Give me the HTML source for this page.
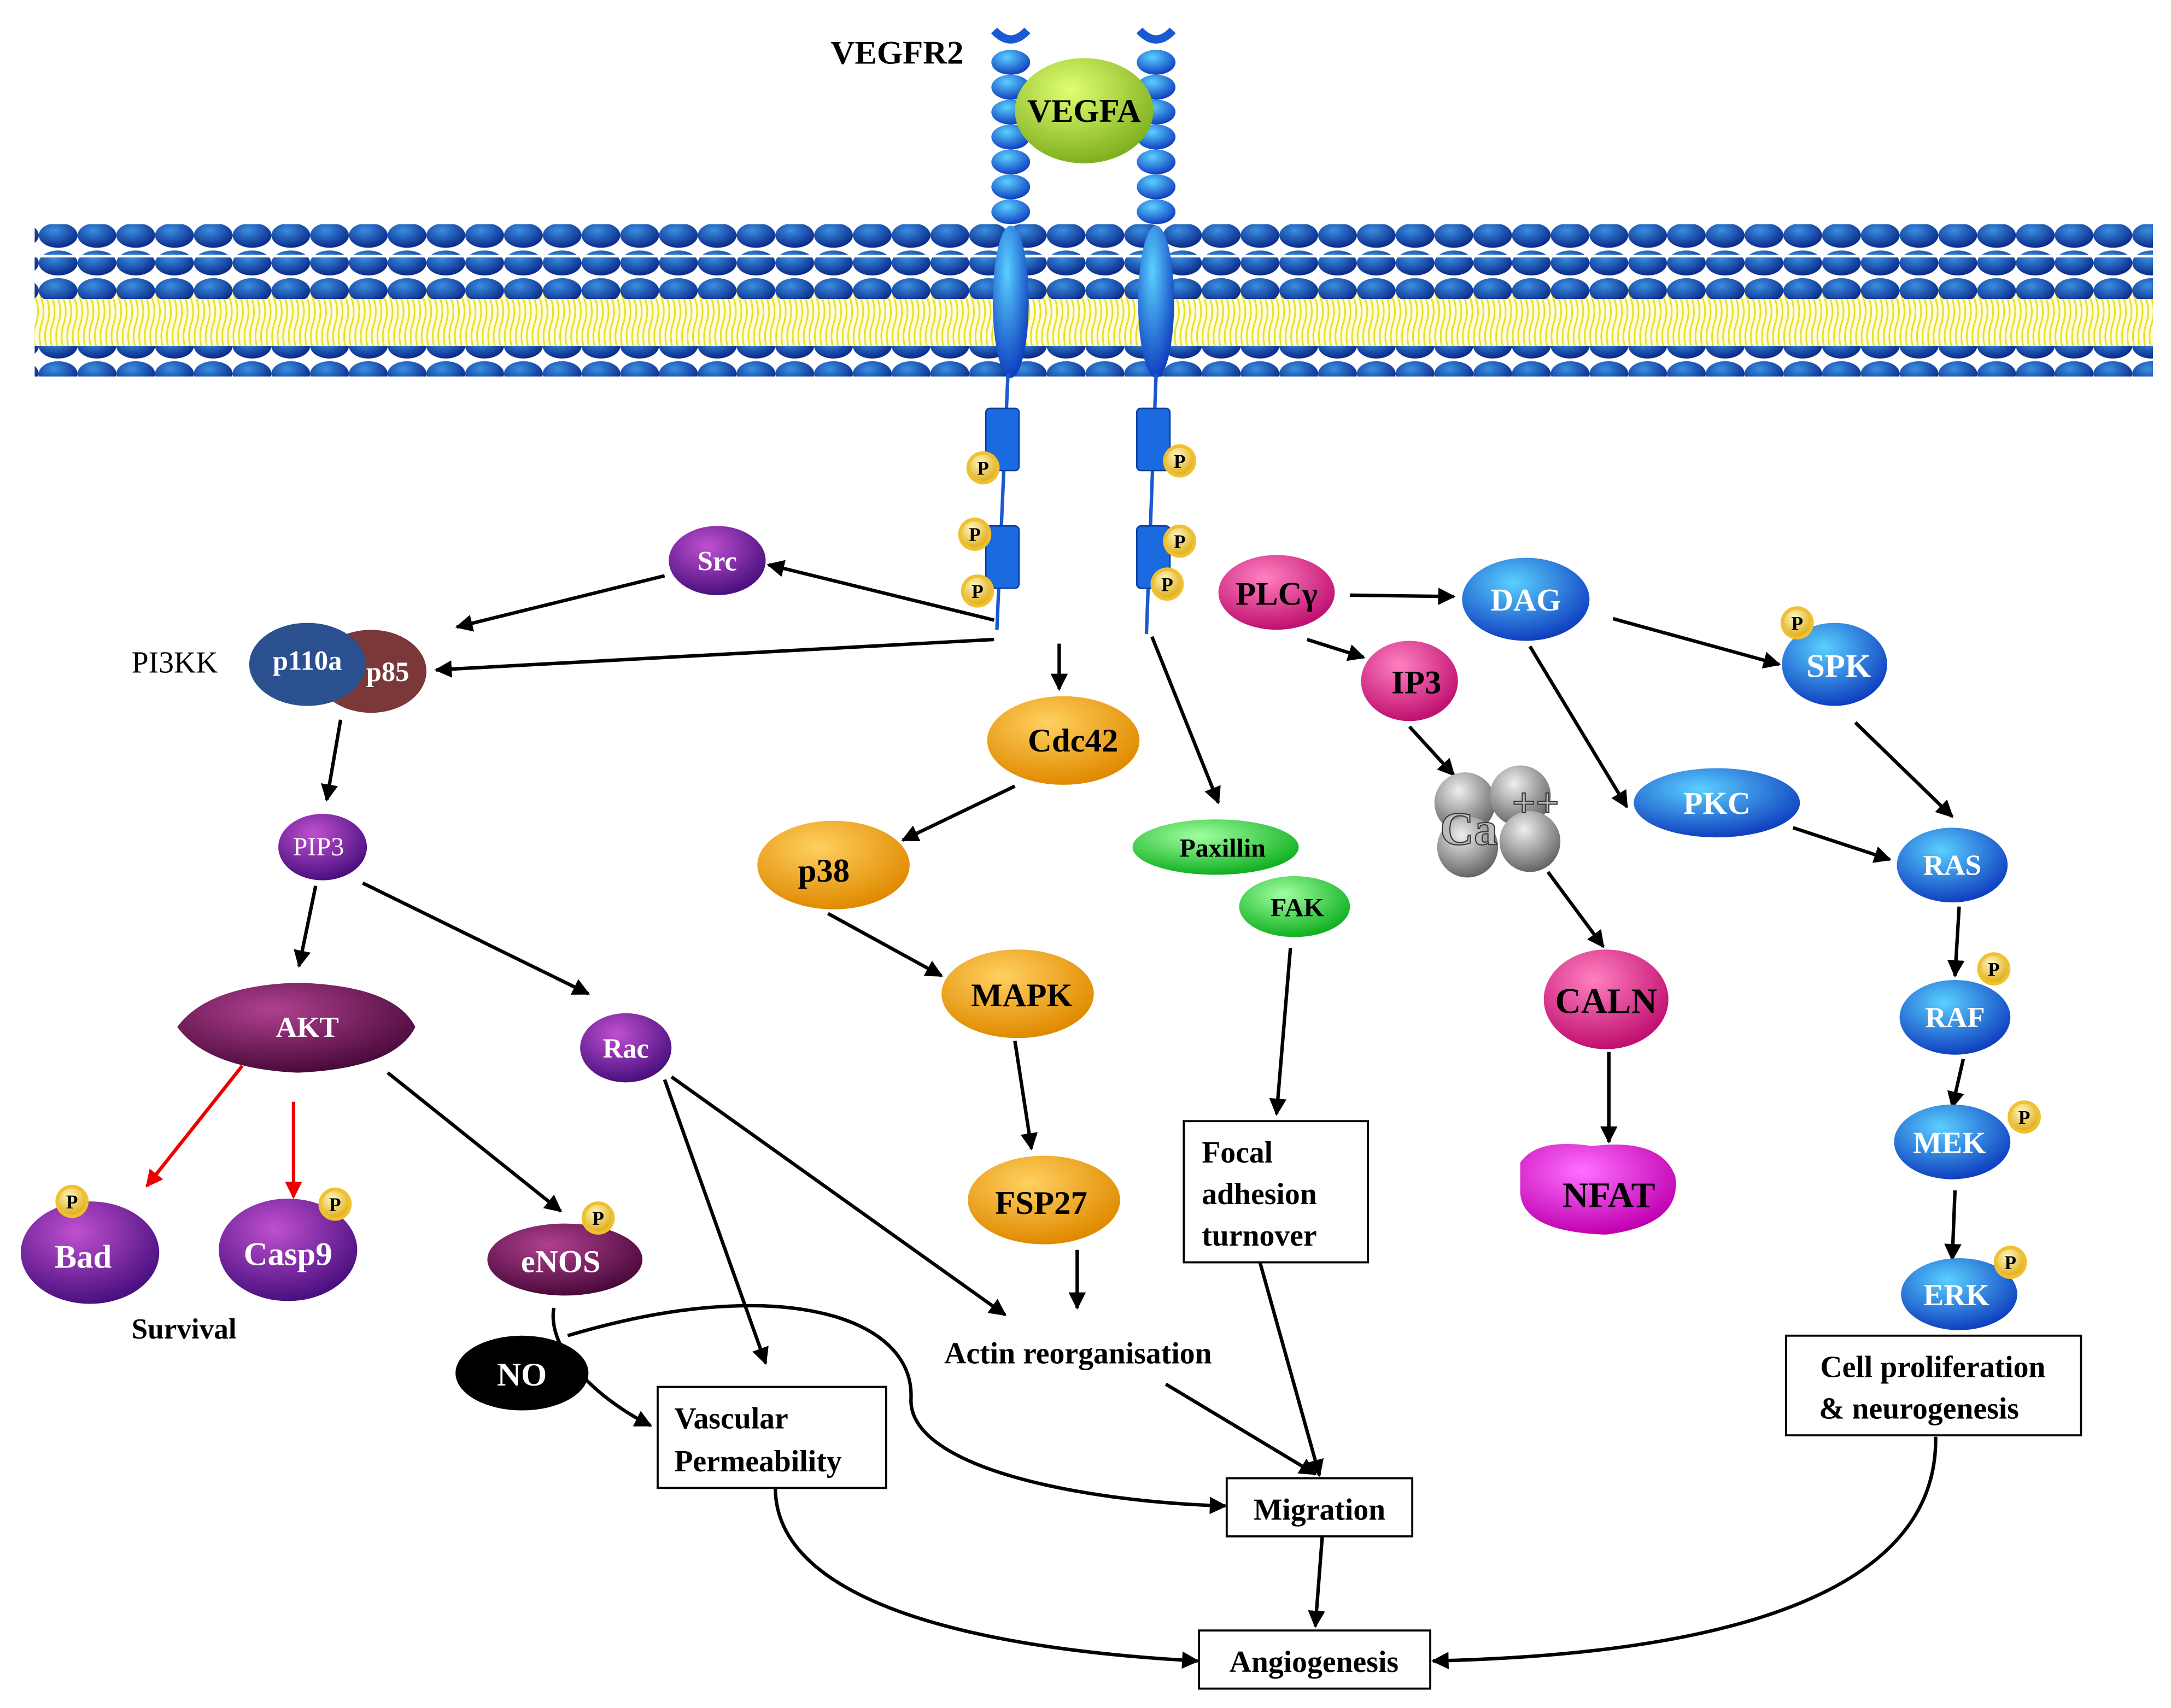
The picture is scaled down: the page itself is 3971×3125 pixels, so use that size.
<!DOCTYPE html>
<html><head><meta charset="utf-8"><style>
html,body{margin:0;padding:0;background:#fff;}
svg{display:block;}
text{font-family:"Liberation Serif",serif;font-weight:bold;}
</style></head><body>
<svg width="3971" height="3125" viewBox="0 0 1568 1234" preserveAspectRatio="none" xmlns="http://www.w3.org/2000/svg">
<defs>
<marker id="ah" viewBox="0 0 10 10" refX="9" refY="5" markerWidth="5" markerHeight="5" orient="auto"><path d="M0,0L10,5L0,10z" fill="#000"/></marker>
<marker id="ahr" viewBox="0 0 10 10" refX="9" refY="5" markerWidth="5" markerHeight="5" orient="auto"><path d="M0,0L10,5L0,10z" fill="#e00"/></marker>
<radialGradient id="gBlue" cx="0.4" cy="0.3" r="0.7"><stop offset="0" stop-color="#5ad0ff"/><stop offset="1" stop-color="#1040c0"/></radialGradient>
<radialGradient id="gHead" cx="0.4" cy="0.3" r="0.7"><stop offset="0" stop-color="#3a8ee0"/><stop offset="1" stop-color="#0a2a8a"/></radialGradient>
<radialGradient id="gPur" cx="0.4" cy="0.3" r="0.7"><stop offset="0" stop-color="#c050d0"/><stop offset="1" stop-color="#4a1080"/></radialGradient>
<radialGradient id="gOr" cx="0.4" cy="0.3" r="0.7"><stop offset="0" stop-color="#ffd060"/><stop offset="1" stop-color="#e08a00"/></radialGradient>
<radialGradient id="gGr" cx="0.4" cy="0.3" r="0.7"><stop offset="0" stop-color="#a0ffa0"/><stop offset="1" stop-color="#10b020"/></radialGradient>
<radialGradient id="gPk" cx="0.4" cy="0.3" r="0.7"><stop offset="0" stop-color="#ff80c0"/><stop offset="1" stop-color="#c01070"/></radialGradient>
<radialGradient id="gMag" cx="0.4" cy="0.3" r="0.7"><stop offset="0" stop-color="#ff70ff"/><stop offset="1" stop-color="#c000b0"/></radialGradient>
<radialGradient id="gDm" cx="0.4" cy="0.3" r="0.7"><stop offset="0" stop-color="#b04090"/><stop offset="1" stop-color="#4a0a3a"/></radialGradient>
<radialGradient id="gVg" cx="0.4" cy="0.3" r="0.7"><stop offset="0" stop-color="#e0ff70"/><stop offset="1" stop-color="#80b020"/></radialGradient>
<radialGradient id="gGray" cx="0.4" cy="0.3" r="0.7"><stop offset="0" stop-color="#eee"/><stop offset="1" stop-color="#666"/></radialGradient>
<radialGradient id="gP" cx="0.4" cy="0.3" r="0.7"><stop offset="0" stop-color="#fff8c0"/><stop offset="1" stop-color="#e0b020"/></radialGradient>
<pattern id="tails" width="8" height="36" patternUnits="userSpaceOnUse"><path d="M2,0 Q5,9 2,18 Q-1,27 2,36 M6,0 Q9,9 6,18 Q3,27 6,36" stroke="#e8e020" stroke-width="1.2" fill="none"/></pattern>
<pattern id="heads" width="28" height="20" patternUnits="userSpaceOnUse"><ellipse cx="14" cy="10" rx="14" ry="9" fill="url(#gHead)"/></pattern>
<clipPath id="mc"><rect x="25" y="150" width="1530" height="130"/></clipPath>
<g id="P"><circle r="12" fill="#f0c030"/><circle r="9.5" fill="url(#gP)"/><text y="5" text-anchor="middle" font-size="14" fill="#000">P</text></g>
</defs>

<!-- membrane -->
<g clip-path="url(#mc)">
<rect x="25" y="208" width="1530" height="42" fill="#fffde0"/>
<rect x="25" y="208" width="1530" height="42" fill="url(#tails)"/>
<rect x="25" y="162" width="1530" height="22" fill="url(#heads)"/>
<rect x="11" y="186" width="1560" height="30" fill="url(#heads)"/>
<rect x="25" y="250" width="1530" height="22" fill="url(#heads)"/>
</g>

<!-- receptors -->
<g fill="url(#gBlue)">
<path d="M718,22 Q730,35 742,22" stroke="#1a5ad0" stroke-width="6" fill="none"/>
<path d="M823,22 Q835,35 847,22" stroke="#1a5ad0" stroke-width="6" fill="none"/>
<ellipse cx="730" cy="45" rx="14" ry="9"/><ellipse cx="730" cy="63" rx="14" ry="9"/><ellipse cx="730" cy="81" rx="14" ry="9"/><ellipse cx="730" cy="99" rx="14" ry="9"/><ellipse cx="730" cy="117" rx="14" ry="9"/><ellipse cx="730" cy="135" rx="14" ry="9"/><ellipse cx="730" cy="153" rx="14" ry="9"/>
<ellipse cx="835" cy="45" rx="14" ry="9"/><ellipse cx="835" cy="63" rx="14" ry="9"/><ellipse cx="835" cy="81" rx="14" ry="9"/><ellipse cx="835" cy="99" rx="14" ry="9"/><ellipse cx="835" cy="117" rx="14" ry="9"/><ellipse cx="835" cy="135" rx="14" ry="9"/><ellipse cx="835" cy="153" rx="14" ry="9"/>
<ellipse cx="730" cy="218" rx="13" ry="55"/><ellipse cx="835" cy="218" rx="13" ry="55"/>
</g>
<line x1="728" y1="270" x2="720" y2="455" stroke="#1a5ad0" stroke-width="2.5"/>
<line x1="835" y1="270" x2="828" y2="458" stroke="#1a5ad0" stroke-width="2.5"/>
<g fill="#1a6ae0" stroke="#0a3aa0"><rect x="712" y="295" width="24" height="45" rx="3"/><rect x="712" y="380" width="24" height="45" rx="3"/><rect x="821" y="295" width="24" height="45" rx="3"/><rect x="821" y="380" width="24" height="45" rx="3"/></g>
<use href="#P" x="710" y="338"/><use href="#P" x="704" y="386"/><use href="#P" x="706" y="427"/>
<use href="#P" x="852" y="333"/><use href="#P" x="852" y="391"/><use href="#P" x="843" y="422"/>

<ellipse cx="783" cy="80" rx="50" ry="38" fill="url(#gVg)"/>
<text x="783" y="88" text-anchor="middle" font-size="24">VEGFA</text>
<text x="600" y="46" font-size="24">VEGFR2</text>

<!-- arrows -->
<g stroke="#000" stroke-width="2.5" fill="none" marker-end="url(#ah)">
<line x1="718" y1="448" x2="555" y2="408"/>
<line x1="480" y1="416" x2="330" y2="453"/>
<line x1="718" y1="462" x2="315" y2="484"/>
<line x1="246" y1="520" x2="236" y2="578"/>
<line x1="228" y1="640" x2="216" y2="698"/>
<line x1="262" y1="638" x2="425" y2="718"/>
<line x1="280" y1="775" x2="405" y2="875"/>
<line x1="765" y1="465" x2="765" y2="498"/>
<line x1="733" y1="568" x2="652" y2="607"/>
<line x1="598" y1="660" x2="680" y2="705"/>
<line x1="733" y1="752" x2="745" y2="830"/>
<line x1="778" y1="903" x2="778" y2="945"/>
<line x1="832" y1="460" x2="880" y2="580"/>
<line x1="932" y1="685" x2="922" y2="805"/>
<line x1="480" y1="780" x2="553" y2="985"/>
<line x1="485" y1="778" x2="726" y2="950"/>
<line x1="842" y1="1000" x2="950" y2="1065"/>
<line x1="910" y1="912" x2="953" y2="1066"/>
<line x1="955" y1="1110" x2="950" y2="1175"/>
<line x1="975" y1="430" x2="1050" y2="431"/>
<line x1="944" y1="462" x2="985" y2="475"/>
<line x1="1165" y1="447" x2="1285" y2="480"/>
<line x1="1105" y1="467" x2="1175" y2="583"/>
<line x1="1340" y1="522" x2="1410" y2="590"/>
<line x1="1295" y1="598" x2="1365" y2="621"/>
<line x1="1415" y1="655" x2="1412" y2="705"/>
<line x1="1418" y1="765" x2="1410" y2="800"/>
<line x1="1412" y1="860" x2="1410" y2="910"/>
<line x1="1018" y1="525" x2="1050" y2="560"/>
<line x1="1118" y1="630" x2="1158" y2="684"/>
<line x1="1162" y1="760" x2="1162" y2="825"/>
<path d="M400,945 C395,975 430,1010 470,1030"/>
<path d="M410,965 C560,920 660,950 658,1010 C655,1060 780,1085 885,1088"/>
<path d="M560,1075 C560,1150 680,1190 865,1200"/>
<path d="M1398,1038 C1400,1150 1250,1195 1035,1200"/>
</g>
<line x1="175" y1="770" x2="106" y2="857" stroke="#e00" stroke-width="2.5" marker-end="url(#ahr)"/>
<line x1="212" y1="796" x2="212" y2="865" stroke="#e00" stroke-width="2.5" marker-end="url(#ahr)"/>

<!-- nodes -->
<ellipse cx="518" cy="405" rx="35" ry="25" fill="url(#gPur)"/>
<text x="518" y="412" text-anchor="middle" font-size="20" fill="#fff">Src</text>
<text x="95" y="486" font-size="22" style="font-weight:normal">PI3KK</text>
<ellipse cx="268" cy="485" rx="40" ry="30" fill="#7a3838"/>
<ellipse cx="222" cy="480" rx="42" ry="30" fill="#2a5090"/>
<text x="222" y="484" text-anchor="middle" font-size="20" fill="#fff">p110a</text>
<text x="280" y="492" text-anchor="middle" font-size="20" fill="#fff">p85</text>
<ellipse cx="233" cy="612" rx="32" ry="24" fill="url(#gPur)"/>
<text x="230" y="618" text-anchor="middle" font-size="19" fill="#fff" style="font-weight:normal">PIP3</text>
<path d="M128,742 Q150,712 215,710 Q285,712 300,742 Q285,772 215,775 Q150,772 128,742z" fill="url(#gDm)"/>
<text x="222" y="749" text-anchor="middle" font-size="21" fill="#fff">AKT</text>
<ellipse cx="452" cy="757" rx="33" ry="25" fill="url(#gPur)"/>
<text x="452" y="764" text-anchor="middle" font-size="20" fill="#fff">Rac</text>
<ellipse cx="65" cy="905" rx="50" ry="37" fill="url(#gPur)"/>
<text x="60" y="916" text-anchor="middle" font-size="24" fill="#fff">Bad</text>
<use href="#P" x="52" y="868"/>
<ellipse cx="208" cy="903" rx="50" ry="37" fill="url(#gPur)"/>
<text x="208" y="914" text-anchor="middle" font-size="24" fill="#fff">Casp9</text>
<use href="#P" x="242" y="870"/>
<ellipse cx="408" cy="910" rx="56" ry="26" fill="url(#gDm)"/>
<text x="405" y="919" text-anchor="middle" font-size="23" fill="#fff">eNOS</text>
<use href="#P" x="432" y="880"/>
<ellipse cx="377" cy="992" rx="48" ry="27" fill="#000"/>
<text x="377" y="1001" text-anchor="middle" font-size="24" fill="#fff">NO</text>
<text x="95" y="967" font-size="21">Survival</text>

<g fill="url(#gOr)">
<ellipse cx="768" cy="535" rx="55" ry="32"/><ellipse cx="602" cy="625" rx="55" ry="32"/><ellipse cx="735" cy="718" rx="55" ry="32"/><ellipse cx="754" cy="867" rx="55" ry="32"/></g>
<text x="775" y="543" text-anchor="middle" font-size="24">Cdc42</text>
<text x="595" y="637" text-anchor="middle" font-size="24">p38</text>
<text x="738" y="727" text-anchor="middle" font-size="24">MAPK</text>
<text x="752" y="877" text-anchor="middle" font-size="24">FSP27</text>

<ellipse cx="878" cy="612" rx="60" ry="20" fill="url(#gGr)"/>
<text x="883" y="619" text-anchor="middle" font-size="19">Paxillin</text>
<ellipse cx="935" cy="655" rx="40" ry="22" fill="url(#gGr)"/>
<text x="937" y="662" text-anchor="middle" font-size="19">FAK</text>

<ellipse cx="922" cy="428" rx="42" ry="27" fill="url(#gPk)"/>
<text x="922" y="437" text-anchor="middle" font-size="24">PLCγ</text>
<ellipse cx="1018" cy="492" rx="35" ry="29" fill="url(#gPk)"/>
<text x="1023" y="501" text-anchor="middle" font-size="24">IP3</text>
<ellipse cx="1102" cy="433" rx="46" ry="30" fill="url(#gBlue)"/>
<text x="1102" y="441" text-anchor="middle" font-size="23" fill="#fff">DAG</text>
<ellipse cx="1325" cy="480" rx="38" ry="30" fill="url(#gBlue)"/>
<text x="1328" y="489" text-anchor="middle" font-size="24" fill="#fff">SPK</text>
<use href="#P" x="1298" y="450"/>
<ellipse cx="1240" cy="580" rx="60" ry="25" fill="url(#gBlue)"/>
<text x="1240" y="588" text-anchor="middle" font-size="23" fill="#fff">PKC</text>
<ellipse cx="1410" cy="625" rx="40" ry="27" fill="url(#gBlue)"/>
<text x="1410" y="632" text-anchor="middle" font-size="21" fill="#fff">RAS</text>
<ellipse cx="1412" cy="735" rx="40" ry="27" fill="url(#gBlue)"/>
<text x="1412" y="742" text-anchor="middle" font-size="21" fill="#fff">RAF</text>
<use href="#P" x="1440" y="700"/>
<ellipse cx="1410" cy="825" rx="42" ry="27" fill="url(#gBlue)"/>
<text x="1408" y="833" text-anchor="middle" font-size="22" fill="#fff">MEK</text>
<use href="#P" x="1462" y="807"/>
<ellipse cx="1415" cy="935" rx="42" ry="26" fill="url(#gBlue)"/>
<text x="1413" y="943" text-anchor="middle" font-size="22" fill="#fff">ERK</text>
<use href="#P" x="1452" y="912"/>
<g fill="url(#gGray)"><circle cx="1058" cy="580" r="22"/><circle cx="1098" cy="575" r="22"/><circle cx="1060" cy="612" r="22"/><circle cx="1105" cy="608" r="22"/></g>
<text x="1040" y="610" font-size="34" fill="#bbb" stroke="#333" stroke-width="0.8">Ca</text>
<text x="1092" y="590" font-size="30" fill="#bbb" stroke="#333" stroke-width="0.8">++</text>
<ellipse cx="1160" cy="722" rx="45" ry="36" fill="url(#gPk)"/>
<text x="1160" y="732" text-anchor="middle" font-size="26">CALN</text>
<path d="M1098,840 Q1110,822 1150,828 Q1200,822 1210,850 Q1215,885 1160,892 Q1100,890 1098,862z" fill="url(#gMag)"/>
<text x="1162" y="872" text-anchor="middle" font-size="26">NFAT</text>

<!-- boxes -->
<g fill="#fff" stroke="#000" stroke-width="1.5">
<rect x="855" y="810" width="133" height="102"/>
<rect x="475" y="1002" width="165" height="73"/>
<rect x="886" y="1068" width="134" height="42"/>
<rect x="866" y="1178" width="167" height="42"/>
<rect x="1290" y="965" width="213" height="72"/>
</g>
<text x="868" y="840" font-size="22">Focal</text>
<text x="868" y="870" font-size="22">adhesion</text>
<text x="868" y="900" font-size="22">turnover</text>
<text x="487" y="1032" font-size="22">Vascular</text>
<text x="487" y="1063" font-size="22">Permeability</text>
<text x="953" y="1098" text-anchor="middle" font-size="22">Migration</text>
<text x="949" y="1208" text-anchor="middle" font-size="22">Angiogenesis</text>
<text x="1396" y="995" text-anchor="middle" font-size="22">Cell proliferation</text>
<text x="1386" y="1025" text-anchor="middle" font-size="22">&amp; neurogenesis</text>
<text x="682" y="985" font-size="22">Actin reorganisation</text>
</svg>
</body></html>
